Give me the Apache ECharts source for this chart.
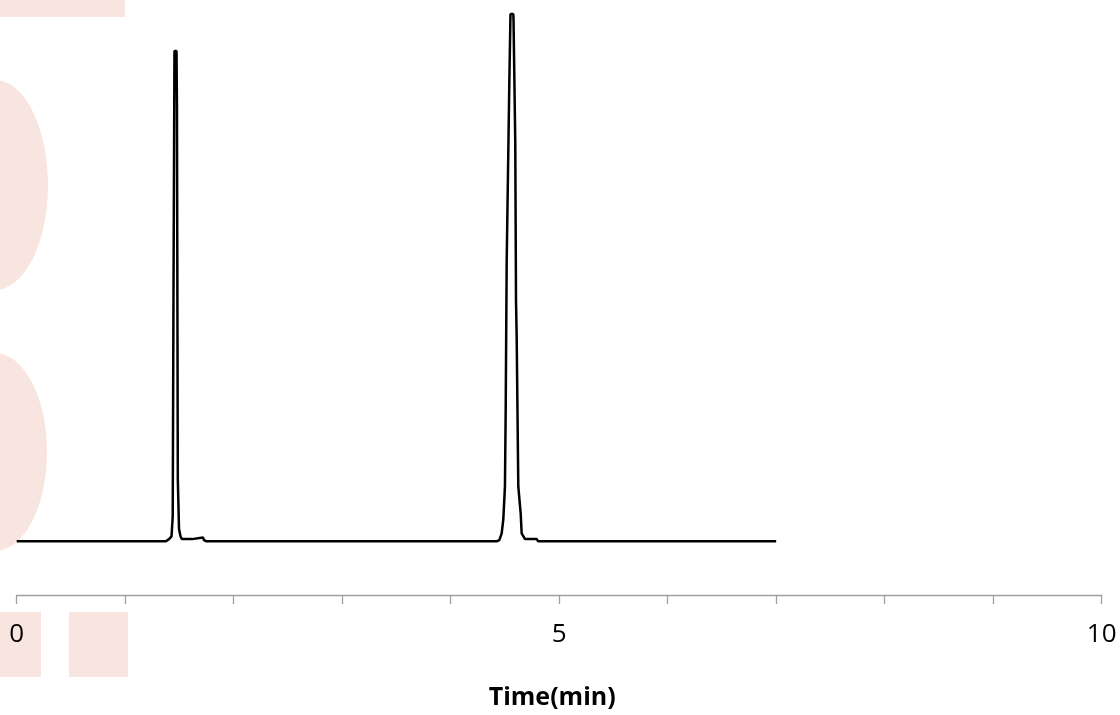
<!DOCTYPE html>
<html>
<head>
<meta charset="utf-8">
<script src="https://cdn.jsdelivr.net/npm/echarts@6/dist/echarts.min.js"></script>
<style>html,body{margin:0;padding:0;background:#fff;}#c{width:1120px;height:715px;}</style>
</head>
<body>
<div id="c"></div>
<script>
// Retention time (min)
var times = [0, 1.376, 1.404, 1.427, 1.438, 1.445, 1.454, 1.473, 1.477, 1.485, 1.496, 1.510, 1.523, 1.616, 1.625, 1.717, 1.726, 1.745,
  4.427, 4.448, 4.470, 4.485, 4.500, 4.507, 4.516, 4.540, 4.551, 4.577, 4.579, 4.595, 4.602, 4.608, 4.623, 4.645, 4.654, 4.685, 4.793, 4.806, 7.0];
// Detector signal (relative)
var signal = [0, 0, 4, 9, 47, 462, 930, 930, 826, 117, 23, 9, 4, 4, 7, 7, 2, 0,
  0, 2, 15, 42, 104, 253, 530, 866, 1000, 1000, 989, 758, 455, 389, 104, 53, 15, 4, 4, 0, 0];
var xTickLabels = ['0', '5', '10'];

var data = times.map(function (t, i) { return [t, signal[i]]; });
var chart = echarts.init(document.getElementById('c'));
var pink = '#f9e5df';
chart.setOption({
  animation: false,
  backgroundColor: '#ffffff',
  graphic: [
    { type: 'rect', z: -10, silent: true, shape: { x: 0, y: 0, width: 125, height: 17 }, style: { fill: pink } },
    { type: 'circle', z: -10, silent: true, x: -5, y: 185, scaleY: 105 / 53, shape: { cx: 0, cy: 0, r: 53 }, style: { fill: pink } },
    { type: 'circle', z: -10, silent: true, x: -5, y: 452, scaleY: 99 / 52, shape: { cx: 0, cy: 0, r: 52 }, style: { fill: pink } },
    { type: 'rect', z: -10, silent: true, shape: { x: 0, y: 612, width: 41, height: 65 }, style: { fill: pink } },
    { type: 'rect', z: -10, silent: true, shape: { x: 69, y: 612, width: 59, height: 65 }, style: { fill: pink } }
  ],
  grid: { left: 16.7, right: 18.3, top: 14, bottom: 116, containLabel: false },
  xAxis: {
    type: 'value', min: 0, max: 10, interval: 1,
    name: 'Time(min)', nameLocation: 'middle', nameGap: 90,
    nameTextStyle: { fontFamily: 'Open Sans', fontWeight: 'bold', fontSize: 25, color: '#000', padding: [0, 14, 0, 0] },
    axisLine: { show: true, onZero: false, lineStyle: { color: '#a0a0a0', width: 1.3 } },
    axisTick: { show: true, length: 9, lineStyle: { color: '#a0a0a0', width: 1.3 } },
    splitLine: { show: false },
    axisLabel: {
      margin: 27, fontFamily: 'Open Sans', fontSize: 26, color: '#000',
      formatter: function (v) { var s = String(v); return xTickLabels.indexOf(s) >= 0 ? s : ''; }
    }
  },
  yAxis: { type: 'value', min: -102, max: 1000, show: false, splitLine: { show: false } },
  series: [{
    type: 'line', data: data, showSymbol: false, symbol: 'none', clip: false,
    lineStyle: { color: '#000', width: 2.5 }
  }]
});
</script>
</body>
</html>
